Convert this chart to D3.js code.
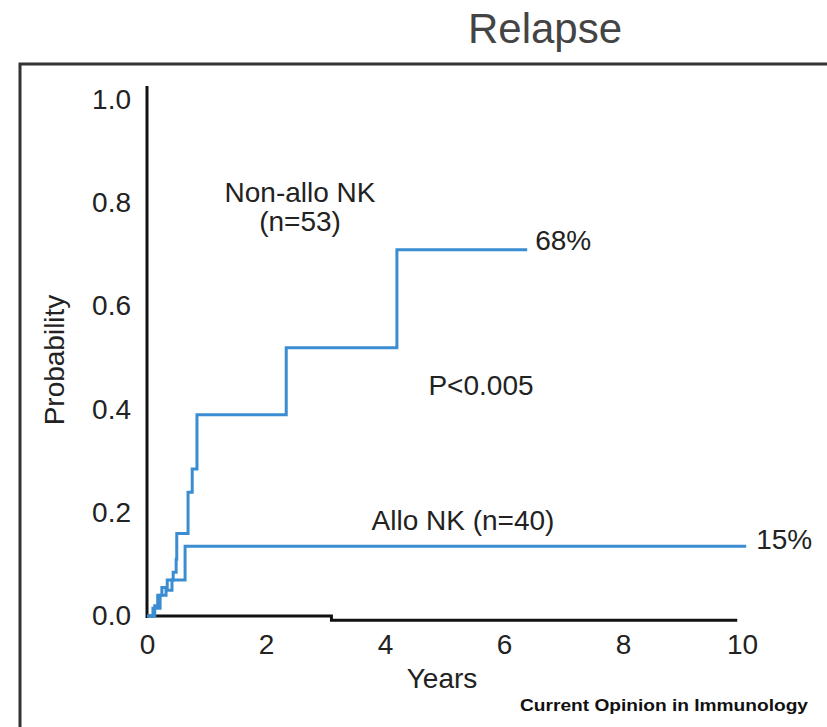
<!DOCTYPE html>
<html lang="en">
<head>
  <meta charset="UTF-8" />
  <title>Relapse</title>
  <style>
    body { margin: 0; background: #fff; font-family: 'Liberation Sans', Arial, sans-serif; }
    svg { display: block; }
  </style>
</head>
<body>
  <svg id="chart" width="827" height="727"></svg>

  <script src="https://d3js.org/d3.v7.min.js"></script>
  <script>
    // step curves: [years, probability]
    const nonAllo = [
      [0, 0], [0.13, 0.02], [0.18, 0.04], [0.25, 0.055], [0.34, 0.07],
      [0.44, 0.085], [0.49, 0.11], [0.50, 0.16], [0.69, 0.24], [0.76, 0.285],
      [0.84, 0.39], [2.34, 0.52], [4.2, 0.71], [6.39, 0.71]
    ];
    const allo = [
      [0, 0], [0.1, 0.015], [0.22, 0.04], [0.32, 0.05], [0.42, 0.07],
      [0.64, 0.135], [10.07, 0.135]
    ];
    // black line along the bottom, with its small drop near 3 years
    const baseLine = [[0, 0], [3.1, 0], [3.1, -0.008], [9.92, -0.008]];

    const xTicks = [0, 2, 4, 6, 8, 10];
    const yTicks = [0, 0.2, 0.4, 0.6, 0.8, 1.0];

    const blue = "#3a8dd0";
    const ink = "#222";
    const fs = 28;

    const svg = d3.select("#chart");

    const x = d3.scaleLinear().domain([0, 10]).range([147, 742]);
    const y = d3.scaleLinear().domain([0, 1]).range([616, 100]);

    // frame around the figure (runs off the right and bottom)
    svg.append("rect")
       .attr("x", 20).attr("y", 64)
       .attr("width", 900).attr("height", 800)
       .attr("fill", "none")
       .attr("stroke", "#333")
       .attr("stroke-width", 3);

    svg.append("text")
       .attr("x", 545).attr("y", 43)
       .attr("text-anchor", "middle")
       .attr("font-size", 42)
       .attr("fill", "#444")
       .text("Relapse");

    // y axis: line only, labels on the left
    const yAxis = d3.axisLeft(y)
      .tickValues(yTicks)
      .tickSize(0)
      .tickPadding(16)
      .tickFormat(d3.format(".1f"));
    const gy = svg.append("g").attr("transform", `translate(${x(0)},0)`).call(yAxis);
    gy.select(".domain").remove();
    gy.selectAll("text")
      .attr("font-size", fs)
      .attr("font-family", "'Liberation Sans', Arial, sans-serif")
      .attr("fill", ink)
      .attr("dy", "0.3em");

    svg.append("line")
       .attr("x1", x(0)).attr("x2", x(0))
       .attr("y1", y(1) - 14).attr("y2", y(0) + 2)
       .attr("stroke", "#111")
       .attr("stroke-width", 3);

    const xAxis = d3.axisBottom(x)
      .tickValues(xTicks)
      .tickSize(0)
      .tickPadding(18)
      .tickFormat(d3.format("d"));
    const gx = svg.append("g").attr("transform", `translate(0,${y(0)})`).call(xAxis);
    gx.select(".domain").remove();
    gx.selectAll("text")
      .attr("font-size", fs)
      .attr("font-family", "'Liberation Sans', Arial, sans-serif")
      .attr("fill", ink);

    const step = d3.line()
      .x(d => x(d[0]))
      .y(d => y(d[1]))
      .curve(d3.curveStepAfter);

    svg.append("path")
       .attr("d", d3.line().x(d => x(d[0])).y(d => y(d[1]))(baseLine))
       .attr("fill", "none")
       .attr("stroke", "#111")
       .attr("stroke-width", 3);

    [allo, nonAllo].forEach(series => {
      svg.append("path")
         .attr("d", step(series))
         .attr("fill", "none")
         .attr("stroke", blue)
         .attr("stroke-width", 3);
    });

    const labels = [
      { t: "Non-allo NK", x: 300, y: 202 },
      { t: "(n=53)", x: 300, y: 231 },
      { t: "P<0.005", x: 481, y: 395 },
      { t: "Allo NK (n=40)", x: 463, y: 530 }
    ];
    labels.forEach(l => {
      svg.append("text")
         .attr("x", l.x).attr("y", l.y)
         .attr("text-anchor", "middle")
         .attr("font-size", fs)
         .attr("fill", ink)
         .text(l.t);
    });

    svg.append("text")
       .attr("x", x(nonAllo[nonAllo.length - 1][0]) + 8)
       .attr("y", 250)
       .attr("font-size", fs)
       .attr("fill", ink)
       .text("68%");

    svg.append("text")
       .attr("x", x(allo[allo.length - 1][0]) + 10)
       .attr("y", 549)
       .attr("font-size", fs)
       .attr("fill", ink)
       .text("15%");

    svg.append("text")
       .attr("x", 442).attr("y", 688)
       .attr("text-anchor", "middle")
       .attr("font-size", fs)
       .attr("fill", ink)
       .text("Years");

    svg.append("text")
       .attr("transform", "translate(64,360) rotate(-90)")
       .attr("text-anchor", "middle")
       .attr("font-size", fs)
       .attr("fill", ink)
       .text("Probability");

    svg.append("text")
       .attr("x", 520).attr("y", 711)
       .attr("font-size", 16)
       .attr("font-weight", "bold")
       .attr("textLength", 288)
       .attr("lengthAdjust", "spacingAndGlyphs")
       .attr("fill", "#111")
       .text("Current Opinion in Immunology");
  </script>
</body>
</html>
